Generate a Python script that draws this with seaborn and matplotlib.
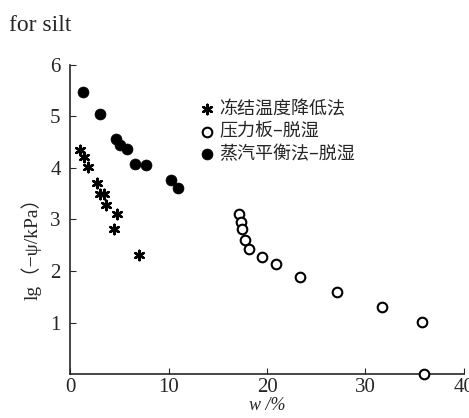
import matplotlib
matplotlib.use("Agg")
import matplotlib.pyplot as plt
import seaborn as sns
import pandas as pd

sns.set_style("ticks")
# 字体: 西文用衬线体, 中文回退到 Noto Sans CJK
plt.rcParams["font.family"] = ["Liberation Serif", "Noto Sans CJK SC"]
plt.rcParams["axes.unicode_minus"] = False

# 冻结温度降低法
freeze_w = [1.0, 1.4, 1.76, 2.74, 3.05, 3.4, 3.66, 4.74, 4.4, 6.94]
freeze_lg = [4.35, 4.21, 4.01, 3.70, 3.50, 3.50, 3.28, 3.11, 2.82, 2.31]
# 压力板-脱湿
plate_w = [17.16, 17.36, 17.43, 17.8, 18.14, 19.46, 20.9, 23.3, 27.1, 31.7, 35.7, 36.0]
plate_lg = [3.10, 2.95, 2.81, 2.61, 2.42, 2.28, 2.14, 1.88, 1.59, 1.31, 1.01, 0.0]
# 蒸汽平衡法-脱湿
vapor_w = [1.29, 2.98, 4.67, 5.08, 5.75, 6.53, 7.72, 10.25, 10.93]
vapor_lg = [5.47, 5.05, 4.56, 4.45, 4.36, 4.07, 4.06, 3.77, 3.61]

labels = ["冻结温度降低法", "压力板–脱湿", "蒸汽平衡法–脱湿"]
x_ticks = [0, 10, 20, 30, 40]
y_ticks = [1, 2, 3, 4, 5, 6]

fig = plt.figure(figsize=(4.69, 4.18), dpi=100)
ax = fig.add_axes([0.150, 0.105, 0.839, 0.740])

df1 = pd.DataFrame({"w": freeze_w, "lg": freeze_lg})
df2 = pd.DataFrame({"w": plate_w, "lg": plate_lg})
df3 = pd.DataFrame({"w": vapor_w, "lg": vapor_lg})

sns.scatterplot(data=df1, x="w", y="lg", ax=ax, marker=(6, 2, 0), s=45,
                color="black", linewidth=1.8, label=labels[0], clip_on=False, zorder=3)
sns.scatterplot(data=df2, x="w", y="lg", ax=ax, marker="o", s=48,
                facecolor="white", edgecolor="black", linewidth=1.5,
                label=labels[1], clip_on=False, zorder=3)
sns.scatterplot(data=df3, x="w", y="lg", ax=ax, marker="o", s=62,
                color="black", edgecolor="black", linewidth=0.5,
                label=labels[2], clip_on=False, zorder=3)

ax.set_xlim(0, 40)
ax.set_ylim(0, 6)
ax.set_xticks(x_ticks)
ax.set_yticks(y_ticks)
ax.tick_params(direction="in", length=4, width=0.8, labelsize=15)
ax.tick_params(axis="y", pad=7)
ax.tick_params(axis="x", pad=3)
for lab in ax.get_xticklabels() + ax.get_yticklabels():
    lab.set_family("Liberation Serif")
sns.despine(ax=ax)
for s in ["left", "bottom"]:
    ax.spines[s].set_linewidth(1.2)

ax.set_xlabel("w /%", fontsize=13, labelpad=0, fontstyle="italic",
              family="Liberation Serif")
ax.set_ylabel("lg（−ψ/kPa）", fontsize=14,
              family=["Liberation Serif", "Noto Sans CJK SC"])
ax.yaxis.set_label_coords(-0.072, 0.42)

leg = ax.legend(loc="upper left", bbox_to_anchor=(0.305, 0.91), frameon=False,
                handletextpad=0.2, labelspacing=0.25,
                borderaxespad=0, handlelength=1.0,
                prop={"family": ["Noto Sans CJK SC"], "size": 13})

fig.text(0.02, 0.965, "for silt", fontsize=17, va="top", ha="left")

plt.savefig("out.png", dpi=100)
plt.close()
